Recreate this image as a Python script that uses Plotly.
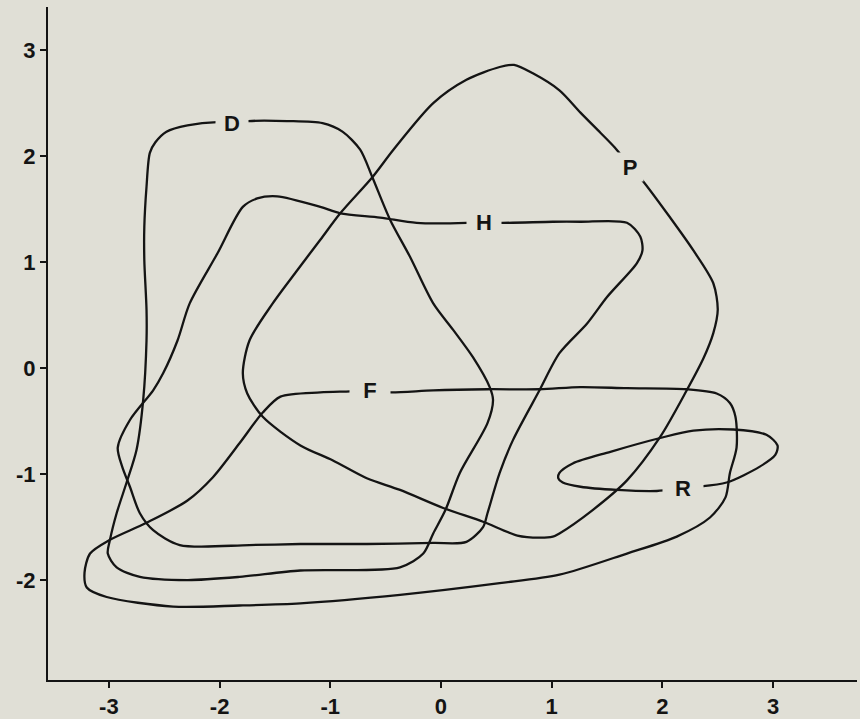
import plotly.graph_objects as go

# curve outlines (closed), each one starts and ends at its label
d_x = [-1.89, -1.74, -1.39, -1.07, -0.89, -0.73, -0.62, -0.46, -0.28, -0.07, 0.11, 0.29,
       0.44, 0.47, 0.42, 0.17, 0.04, -0.07, -0.16, -0.37, -1.27, -1.82, -2.29, -2.72,
       -2.93, -3.01, -2.99, -2.93, -2.84, -2.75, -2.69, -2.66, -2.66, -2.68, -2.68, -2.66,
       -2.63, -2.58, -2.48, -2.29, -2.02, -1.89]
d_y = [2.31, 2.33, 2.33, 2.31, 2.23, 2.06, 1.80, 1.40, 1.05, 0.61, 0.36, 0.10,
       -0.18, -0.30, -0.52, -0.99, -1.34, -1.56, -1.75, -1.88, -1.91, -1.97, -2.00, -1.97,
       -1.88, -1.75, -1.62, -1.37, -1.08, -0.77, -0.30, 0.26, 0.55, 1.02, 1.33, 1.71,
       2.03, 2.13, 2.23, 2.29, 2.32, 2.31]

h_x = [0.39, 0.53, 1.01, 1.26, 1.68, 1.80, 1.82, 1.77, 1.50, 1.32, 1.07, 0.89, 0.65,
       0.53, 0.42, 0.38, 0.23, -0.07, -0.67, -1.27, -1.73, -2.36, -2.60, -2.72, -2.81,
       -2.88, -2.92, -2.81, -2.60, -2.51, -2.38, -2.27, -2.02, -1.79, -1.66, -1.48, -1.09,
       -0.91, -0.55, -0.22, 0.23, 0.39]
h_y = [1.38, 1.37, 1.38, 1.38, 1.37, 1.24, 1.11, 0.99, 0.67, 0.42, 0.14, -0.21, -0.68,
       -0.99, -1.37, -1.50, -1.64, -1.65, -1.66, -1.66, -1.67, -1.67, -1.53, -1.37, -1.12,
       -0.93, -0.75, -0.49, -0.21, -0.05, 0.26, 0.61, 1.08, 1.52, 1.60, 1.62, 1.52,
       1.46, 1.42, 1.37, 1.37, 1.38]

f_x = [-0.64, -0.46, -0.07, 0.42, 0.89, 1.26, 1.68, 2.22, 2.49, 2.61, 2.66, 2.67, 2.61,
       2.57, 2.43, 2.13, 1.68, 1.07, 0.53, -0.37, -1.27, -1.82, -2.42, -3.02, -3.20,
       -3.22, -3.17, -2.99, -2.66, -2.29, -2.06, -1.82, -1.61, -1.45, -1.09, -0.82, -0.64]
f_y = [-0.21, -0.23, -0.21, -0.20, -0.20, -0.18, -0.19, -0.20, -0.24, -0.33, -0.46, -0.75,
       -0.99, -1.22, -1.41, -1.59, -1.75, -1.95, -2.03, -2.14, -2.22, -2.24, -2.25, -2.16,
       -2.07, -1.93, -1.75, -1.62, -1.46, -1.25, -1.03, -0.71, -0.42, -0.27, -0.23, -0.22,
       -0.21]

p_x = [1.71, 1.82, 2.07, 2.28, 2.46, 2.50, 2.46, 2.37, 2.22, 1.98, 1.68, 1.37, 1.07,
       1.01, 0.89, 0.69, 0.38, 0.02, -0.37, -0.67, -0.98, -1.27, -1.61, -1.75, -1.79,
       -1.73, -1.52, -1.30, -1.09, -0.91, -0.62, -0.43, -0.07, 0.23, 0.53, 0.66, 0.83,
       1.07, 1.26, 1.44, 1.57, 1.71]
p_y = [1.90, 1.77, 1.42, 1.11, 0.80, 0.55, 0.33, 0.09, -0.21, -0.65, -1.06, -1.34, -1.56,
       -1.59, -1.60, -1.58, -1.45, -1.32, -1.15, -1.04, -0.87, -0.73, -0.46, -0.24, -0.05,
       0.26, 0.61, 0.92, 1.21, 1.46, 1.80, 2.06, 2.50, 2.72, 2.84, 2.86, 2.78,
       2.62, 2.41, 2.22, 2.08, 1.90]

r_x = [2.19, 2.31, 2.58, 2.88, 3.02, 3.04, 2.94, 2.64, 2.28, 1.98, 1.53, 1.19, 1.07,
       1.06, 1.10, 1.26, 1.59, 1.95, 2.19]
r_y = [-1.13, -1.12, -1.08, -0.93, -0.82, -0.73, -0.63, -0.58, -0.59, -0.66, -0.79, -0.90,
       -0.99, -1.04, -1.08, -1.12, -1.15, -1.16, -1.13]

curve_names = ["D", "H", "F", "P", "R"]
curves = [(d_x, d_y), (h_x, h_y), (f_x, f_y), (p_x, p_y), (r_x, r_y)]
gap_width = {"D": 30, "H": 32, "F": 38, "P": 24, "R": 38}

tick_vals_x = [-3, -2, -1, 0, 1, 2, 3]
tick_text_x = ["-3", "-2", "-1", "0", "1", "2", "3"]
tick_vals_y = [-2, -1, 0, 1, 2, 3]
tick_text_y = ["-2", "-1", "0", "1", "2", "3"]

fond = "#e0dfd6"
encre = "#141414"
police = dict(family="Liberation Sans, Arial", size=22, color=encre, weight="bold")

fig = go.Figure()
for nom, (cx, cy) in zip(curve_names, curves):
    fig.add_trace(go.Scatter(x=cx, y=cy, mode="lines", name=nom,
                             line=dict(color=encre, width=2.3, shape="spline", smoothing=0.8),
                             showlegend=False, hoverinfo="skip"))
    # lettre posée sur la courbe, avec un fond qui coupe le trait
    fig.add_annotation(x=cx[0], y=cy[0], text=nom, showarrow=False, font=police,
                       bgcolor=fond, width=gap_width[nom], height=26)

fig.update_layout(
    width=860, height=719,
    margin=dict(l=48, r=3, t=7, b=39),
    paper_bgcolor=fond, plot_bgcolor=fond,
)
fig.update_xaxes(range=[-3.55, 3.758], tickvals=tick_vals_x, ticktext=tick_text_x,
                 showgrid=False, zeroline=False, showline=True, linecolor=encre, linewidth=2,
                 ticks="outside", ticklen=6, tickwidth=2, tickcolor=encre,
                 tickfont=police, automargin=False)
fig.update_yaxes(range=[-2.943, 3.406], tickvals=tick_vals_y, ticktext=tick_text_y,
                 showgrid=False, zeroline=False, showline=True, linecolor=encre, linewidth=2,
                 ticks="outside", ticklen=6, tickwidth=2, tickcolor=encre,
                 tickfont=police, automargin=False)

# la page a une marge de 8 px par défaut : on la retire
fig.write_html("out.html", config={"displayModeBar": False},
               post_script="document.body.style.margin='0';document.body.style.background='%s';" % fond)
